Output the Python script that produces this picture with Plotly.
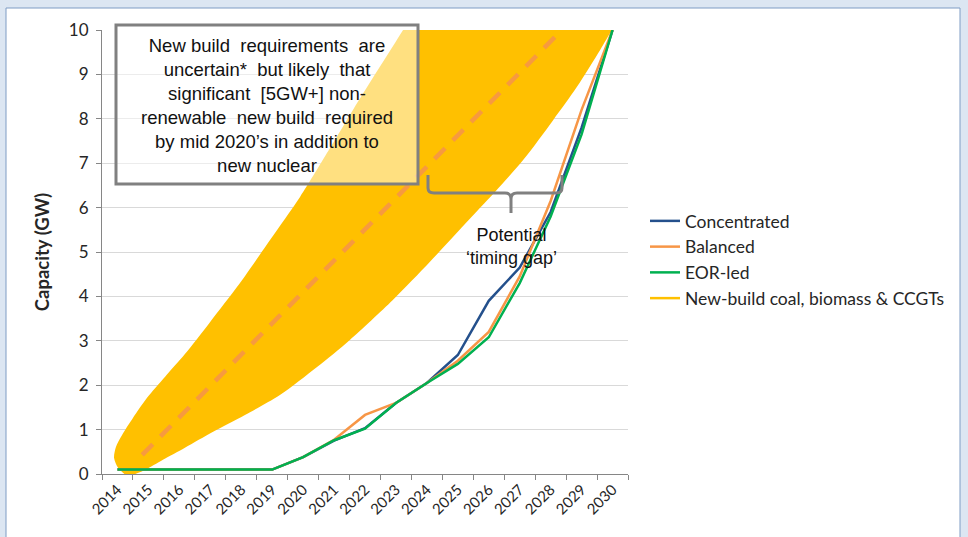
import plotly.graph_objects as go

# ---- data -------------------------------------------------------------
years = list(range(2014, 2031))
year_labels = [str(y) for y in years]

concentrated = [0.1, 0.1, 0.1, 0.1, 0.1, 0.1, 0.38, 0.75, 1.03, 1.6, 2.05,
                2.68, 3.9, 4.65, 5.9, 7.8, 10.0]
balanced = [0.1, 0.1, 0.1, 0.1, 0.1, 0.1, 0.38, 0.77, 1.33, 1.6, 2.05,
            2.55, 3.2, 4.45, 6.15, 8.2, 10.0]
eor_led = [0.1, 0.1, 0.1, 0.1, 0.1, 0.1, 0.38, 0.76, 1.02, 1.6, 2.05,
           2.48, 3.08, 4.3, 5.8, 7.65, 10.0]

# envelope of the new-build range: upper edge (low to high), then lower edge
fan_upper_x = [2014.31, 2014.02, 2013.89, 2013.95, 2014.15, 2014.50, 2014.95,
               2015.54, 2016.18, 2016.99, 2017.96, 2018.93, 2019.90, 2020.87,
               2021.61, 2022.48, 2023.23, 2023.62]
fan_upper_y = [-0.05, 0.14, 0.36, 0.61, 0.88, 1.26, 1.71,
               2.19, 2.70, 3.42, 4.30, 5.27, 6.24, 7.34,
               8.20, 9.17, 10.0, 10.45]
fan_lower_x = [2030.40, 2029.98, 2029.60, 2028.85, 2028.08, 2027.11, 2026.20,
               2025.23, 2024.10, 2022.90, 2021.51, 2020.45, 2019.25, 2018.12,
               2017.09, 2016.18, 2015.47, 2014.89, 2014.50]
fan_lower_y = [10.45, 10.0, 9.55, 8.72, 7.97, 7.07, 6.35,
               5.63, 4.78, 3.92, 3.02, 2.41, 1.78, 1.33,
               0.95, 0.59, 0.32, 0.09, -0.02]

# central new-build trajectory
trend_x = [2014.8, 2028.15]
trend_y = [0.43, 9.85]

# ---- layout geometry (pixels of the 968x537 page) ---------------------
W, H = 968, 537
PL, PR, PT, PB = 102, 628, 30, 474


def px_x(px):
    return (px - PL) / (PR - PL)


def px_y(py):
    return (PB - py) / (PB - PT)


BLUE = "#24508C"
ORANGE = "#F79646"
GREEN = "#00B050"
YELLOW = "#FFC000"
GRID = "#D9D9D9"
AXIS = "#868686"
TXT = "#262626"

fig = go.Figure()

fig.add_trace(go.Scatter(
    x=fan_upper_x + fan_lower_x, y=fan_upper_y + fan_lower_y,
    mode="lines", fill="toself", fillcolor=YELLOW,
    line=dict(color=YELLOW, width=0, shape="spline", smoothing=0.8),
    showlegend=False, hoverinfo="skip"))

fig.add_trace(go.Scatter(
    x=trend_x, y=trend_y, mode="lines",
    line=dict(color=ORANGE, width=4.5, dash="15px,11px"),
    opacity=0.9, showlegend=False, hoverinfo="skip"))

for name, vals, col in [("Concentrated", concentrated, BLUE),
                        ("Balanced", balanced, ORANGE),
                        ("EOR-led", eor_led, GREEN)]:
    fig.add_trace(go.Scatter(
        x=years, y=vals, mode="lines", name=name, legendgroup=name,
        line=dict(color=col, width=2.5)))

# legend entry for the new-build band
fig.add_trace(go.Scatter(
    x=[None], y=[None], mode="lines", name="New-build coal, biomass & CCGTs",
    legendgroup="newbuild", line=dict(color=YELLOW, width=2.5)))

shapes = []
# page frame
shapes.append(dict(type="rect", xref="paper", yref="paper", layer="below",
                   x0=px_x(6), x1=px_x(960), y0=px_y(560), y1=px_y(8),
                   fillcolor="white", line=dict(color="#7F9CC4", width=1)))
# text box
shapes.append(dict(type="rect", xref="paper", yref="paper", layer="above",
                   x0=px_x(116), x1=px_x(418), y0=px_y(184), y1=px_y(25),
                   fillcolor="rgba(255,255,255,0.5)",
                   line=dict(color="#808080", width=3)))


# curly bracket marking the gap
def P(x, y):
    return f"{px_x(x):.5f},{px_y(y):.5f}"


bracket = (f"M {P(428,175)} L {P(428,188)} Q {P(428,193)} {P(434,193)} "
           f"L {P(505,193)} Q {P(511,193)} {P(511,199)} L {P(511,213)} "
           f"M {P(511,199)} Q {P(511,193)} {P(517,193)} "
           f"L {P(556,193)} Q {P(562,193)} {P(562,188)} L {P(562,175)}")
shapes.append(dict(type="path", xref="paper", yref="paper", layer="above",
                   path=bracket, line=dict(color="#808080", width=3)))

annotations = [
    dict(xref="paper", yref="paper", x=px_x(267), y=px_y(105),
         xanchor="center", yanchor="middle", showarrow=False, align="center",
         text=("New build  requirements  are<br>uncertain*  but likely  that"
               "<br>significant  [5GW+] non-<br>renewable  new build  required"
               "<br>by mid 2020\u2019s in addition to<br>new nuclear"),
         font=dict(family="Liberation Sans, Arial", size=18.5, color="#111111")),
    dict(xref="paper", yref="paper", x=px_x(511), y=px_y(246),
         xanchor="center", yanchor="middle", showarrow=False, align="center",
         text="Potential<br>\u2018timing gap\u2019",
         font=dict(family="Liberation Sans, Arial", size=18, color="#111111")),
]

fig.update_layout(
    width=W, height=H,
    margin=dict(l=PL, r=W - PR, t=PT, b=H - PB, pad=0),
    paper_bgcolor="#DCE6F2", plot_bgcolor="white",
    font=dict(family="Lato, Carlito, sans-serif", color=TXT),
    shapes=shapes, annotations=annotations,
    legend=dict(x=px_x(645), y=px_y(203), xanchor="left", yanchor="top",
                bgcolor="rgba(0,0,0,0)", traceorder="grouped",
                tracegroupgap=0, font=dict(size=17.5, color=TXT),
                itemwidth=30),
    xaxis=dict(range=[2013.5, 2030.5], tickmode="array", tickvals=years,
               ticktext=year_labels, tickangle=-45, ticks="",
               showgrid=False, zeroline=False, showline=True,
               linecolor=AXIS, linewidth=1,
               tickfont=dict(size=15, color=TXT),
               minor=dict(tick0=2013.5, dtick=1, ticks="outside", ticklen=5,
                          tickcolor=AXIS, showgrid=False)),
    yaxis=dict(range=[0, 10], dtick=1, tick0=0, showgrid=True,
               gridcolor=GRID, gridwidth=1.3, zeroline=False, showline=True,
               linecolor=AXIS, linewidth=1, ticks="outside", ticklen=5,
               tickcolor=AXIS, tickfont=dict(size=17, color=TXT),
               ticklabelstandoff=4,
               title=dict(text="<b>Capacity (GW)</b>", standoff=14,
                          font=dict(size=18.5, color=TXT))),
)

fig.write_html("out.html")
